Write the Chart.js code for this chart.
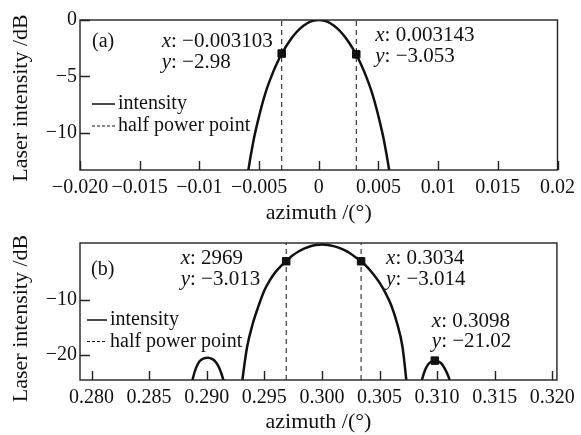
<!DOCTYPE html>
<html>
<head>
<meta charset="utf-8">
<script src="https://cdn.jsdelivr.net/npm/chart.js@4/dist/chart.umd.min.js"></script>
<style>
  body { margin: 0; background: #fff; }
  #wrap { position: relative; width: 581px; height: 435px; }
  canvas { position: absolute; left: 0; }
</style>
</head>
<body>
<div id="wrap">
  <canvas id="chartA" width="581" height="228" style="top:0"></canvas>
  <canvas id="chartB" width="581" height="207" style="top:228px"></canvas>
</div>
<script>
// panel (a)
const xTicksA = [-0.02, -0.015, -0.01, -0.005, 0, 0.005, 0.01, 0.015, 0.02];
const xTickLabelsA = ['−0.020', '−0.015', '−0.01', '−0.005', '0', '0.005', '0.01', '0.015', '0.02'];
const yTicksA = [0, -5, -10];
const yTickLabelsA = ['0', '−5', '−10'];
const azimuthA = [-0.0065, -0.006, -0.0055, -0.005, -0.0045, -0.004, -0.0035, -0.003, -0.0025, -0.002, -0.0015, -0.001, -0.0005, 0,
                  0.0005, 0.001, 0.0015, 0.002, 0.0025, 0.003, 0.0035, 0.004, 0.0045, 0.005, 0.0055, 0.006, 0.0065];
const intensityA = [-19.0, -14.1, -10.9, -8.55, -6.6, -5.1, -3.85, -2.8, -1.95, -1.25, -0.7, -0.31, -0.08, 0,
                    -0.08, -0.31, -0.7, -1.25, -1.95, -2.8, -3.85, -5.1, -6.6, -8.55, -10.9, -14.1, -19.0];
const halfPowerA = [-0.003103, 0.003143];
const markerXA = [-0.003103, 0.003143];
const markerYA = [-2.98, -3.053];
const markerLabelsA = [['x: −0.003103', 'y: −2.98'], ['x: 0.003143', 'y: −3.053']];

// panel (b)
const xTicksB = [0.28, 0.285, 0.29, 0.295, 0.3, 0.305, 0.31, 0.315, 0.32];
const xTickLabelsB = ['0.280', '0.285', '0.290', '0.295', '0.300', '0.305', '0.310', '0.315', '0.320'];
const yTicksB = [-10, -20];
const yTickLabelsB = ['−10', '−20'];
const azimuthB = [0.2886, 0.2888, 0.2891, 0.2894, 0.2897, 0.2901, 0.2905, 0.2908, 0.2911, 0.2914, 0.2916, 0.2922,
                  0.2928, 0.2931, 0.2935, 0.2940, 0.2945, 0.2950, 0.2955, 0.2960, 0.2965, 0.2970, 0.2975, 0.2980,
                  0.2985, 0.2990, 0.2995, 0.3000, 0.3005, 0.3010, 0.3015, 0.3020, 0.3025, 0.3030, 0.3035, 0.3040,
                  0.3045, 0.3050, 0.3055, 0.3060, 0.3065, 0.3070, 0.3074, 0.3080,
                  0.3085, 0.3087, 0.3090, 0.3093, 0.3096, 0.3098, 0.3101, 0.3104, 0.3107, 0.3110, 0.3113];
const intensityB = [-26.5, -24.2, -22.2, -21.1, -20.65, -20.5, -20.75, -21.3, -22.4, -24.2, -26, null,
                    -30, -24.5, -18.6, -14.3, -11.1, -8.3, -6.4, -4.9, -3.75, -2.8, -1.9, -1.2,
                    -0.68, -0.3, -0.08, 0, -0.07, -0.27, -0.6, -1.05, -1.65, -2.4, -3.2, -4.2,
                    -5.45, -6.9, -8.7, -10.9, -14.1, -18.6, -26, null,
                    -26.5, -24.4, -22.5, -21.5, -21.1, -21.02, -21.15, -21.6, -22.6, -24.0, -26.2];
const halfPowerB = [0.2969, 0.3034];
const markerXB = [0.2969, 0.3034, 0.3098];
const markerYB = [-3.013, -3.014, -21.02];
const markerLabelsB = [['x: 2969', 'y: −3.013'], ['x: 0.3034', 'y: −3.014'], ['x: 0.3098', 'y: −21.02']];

const FONT = '"Liberation Serif", "DejaVu Serif", serif';
const INK = '#111';

// italic first letter (x / y), rest upright
function richText(ctx, str, x, y, draw) {
  ctx.font = 'italic 21px ' + FONT;
  const w1 = ctx.measureText(str[0]).width;
  if (draw) ctx.fillText(str[0], x, y);
  ctx.font = '21px ' + FONT;
  const w2 = ctx.measureText(str.slice(1)).width;
  if (draw) ctx.fillText(str.slice(1), x + w1, y);
  return w1 + w2;
}

const panelDecor = {
  id: 'panelDecor',
  afterDatasetsDraw(chart, args, o) {
    const ctx = chart.ctx, a = chart.chartArea;
    const xs = chart.scales.x, ys = chart.scales.y;
    ctx.save();
    ctx.strokeStyle = '#222';
    ctx.lineWidth = 1.4;
    ctx.setLineDash([]);
    ctx.strokeRect(a.left, a.top, a.right - a.left, a.bottom - a.top);
    // ticks pointing inward
    ctx.beginPath();
    xs.ticks.forEach(t => {
      const px = Math.round(xs.getPixelForValue(t.value)) + 0.5;
      ctx.moveTo(px, a.bottom); ctx.lineTo(px, a.bottom - 9);
    });
    ys.ticks.forEach(t => {
      const py = Math.round(ys.getPixelForValue(t.value)) + 0.5;
      ctx.moveTo(a.left, py); ctx.lineTo(a.left + 10, py);
    });
    ctx.stroke();

    ctx.fillStyle = INK;
    ctx.textBaseline = 'middle';
    ctx.textAlign = 'left';
    // panel tag
    ctx.font = '20px ' + FONT;
    ctx.fillText(o.tag, a.left + o.tagPos[0], a.top + o.tagPos[1]);

    // legend
    const lg = o.legend;
    const lx = a.left + lg.x, ly = a.top + lg.y;
    ctx.strokeStyle = INK;
    ctx.lineWidth = 1.5;
    ctx.beginPath(); ctx.moveTo(lx, ly); ctx.lineTo(lx + lg.len, ly); ctx.stroke();
    ctx.lineWidth = 1;
    ctx.setLineDash([3, 2]);
    ctx.beginPath(); ctx.moveTo(lx, ly + lg.row); ctx.lineTo(lx + lg.len, ly + lg.row); ctx.stroke();
    ctx.setLineDash([]);
    ctx.fillText('intensity', lx + lg.len + 3, ly);
    ctx.fillText('half power point', lx + lg.len + 3, ly + lg.row);

    // data tips
    o.markers.x.forEach((mx, i) => {
      const px = xs.getPixelForValue(mx), py = ys.getPixelForValue(o.markers.y[i]);
      const p = o.labelPos[i], lines = o.markers.labels[i];
      const w = Math.max(...lines.map(s => richText(ctx, s, 0, 0, false)));
      const left = p.align === 'right' ? px + p.dx - w : px + p.dx;
      richText(ctx, lines[0], left, py + p.dy1, true);
      richText(ctx, lines[1], left, py + p.dy2, true);
    });

    // y axis title
    ctx.translate(o.yTitle[0], o.yTitle[1]);
    ctx.rotate(-Math.PI / 2);
    ctx.textAlign = 'center';
    ctx.font = '22px ' + FONT;
    ctx.fillText('Laser intensity /dB', 0, 0);
    ctx.restore();
  }
};

function makeChart(id, p) {
  const curve = p.az.map((x, i) => ({ x: x, y: p.val[i] }));
  const dashes = p.half.map(h => ({
    data: [{ x: h, y: p.yMin }, { x: h, y: p.yMax }],
    borderColor: INK, borderWidth: 1, borderDash: [5, 4], pointRadius: 0, order: 2
  }));
  return new Chart(document.getElementById(id), {
    type: 'line',
    data: {
      datasets: [
        {
          data: curve, borderColor: INK, borderWidth: 2.5, pointRadius: 0,
          cubicInterpolationMode: 'monotone', spanGaps: false, order: 1
        },
        {
          data: p.markers.x.map((x, i) => ({ x: x, y: p.markers.y[i] })),
          showLine: false, pointStyle: 'rect', pointRadius: 5.3,
          pointBackgroundColor: INK, pointBorderColor: INK, order: 0
        },
        ...dashes
      ]
    },
    options: {
      responsive: false,
      animation: false,
      devicePixelRatio: 1,
      layout: { padding: { top: p.padTop, right: 19, left: 0, bottom: 0 } },
      plugins: {
        legend: { display: false },
        tooltip: { enabled: false },
        panelDecor: p.decor
      },
      scales: {
        x: {
          type: 'linear', min: p.xMin, max: p.xMax,
          afterBuildTicks: s => { s.ticks = p.xTicks.map(v => ({ value: v })); },
          afterFit: s => { s.height = p.xAxisH; },
          grid: { display: false, drawTicks: false },
          border: { display: false },
          ticks: {
            autoSkip: false, maxRotation: 0, padding: 6, color: INK,
            font: { family: FONT, size: 20 },
            callback: (v, i) => p.xLabels[i]
          },
          title: {
            display: true, text: 'azimuth /(°)', color: INK,
            font: { family: FONT, size: 22 }, padding: { top: 0, bottom: p.titlePad }
          }
        },
        y: {
          type: 'linear', min: p.yMin, max: p.yMax,
          afterBuildTicks: s => { s.ticks = p.yTicks.map(v => ({ value: v })); },
          afterFit: s => { s.width = 80; },
          grid: { display: false, drawTicks: false },
          border: { display: false },
          ticks: {
            padding: 3, color: INK,
            font: { family: FONT, size: 20 },
            callback: (v, i) => p.yLabels[i]
          }
        }
      }
    },
    plugins: [panelDecor]
  });
}

const markersA = { x: markerXA, y: markerYA, labels: markerLabelsA };
const markersB = { x: markerXB, y: markerYB, labels: markerLabelsB };

makeChart('chartA', {
  az: azimuthA, val: intensityA, half: halfPowerA, markers: markersA,
  xMin: -0.02, xMax: 0.02, yMin: -13.33, yMax: 0,
  xTicks: xTicksA, xLabels: xTickLabelsA, yTicks: yTicksA, yLabels: yTickLabelsA,
  padTop: 20, xAxisH: 58, titlePad: 2,
  decor: {
    tag: '(a)', tagPos: [12, 22],
    legend: { x: 12, y: 84, len: 23, row: 22 },
    markers: markersA,
    labelPos: [{ align: 'right', dx: -9, dy1: -12, dy2: 9 }, { align: 'left', dx: 19, dy1: -19, dy2: 2 }],
    yTitle: [21, 98]
  }
});

makeChart('chartB', {
  az: azimuthB, val: intensityB, half: halfPowerB, markers: markersB,
  xMin: 0.279, xMax: 0.3204, yMin: -24.53, yMax: 0.29,
  xTicks: xTicksB, xLabels: xTickLabelsB, yTicks: yTicksB, yLabels: yTickLabelsB,
  padTop: 7, xAxisH: 55, titlePad: 0,
  decor: {
    tag: '(b)', tagPos: [11, 27],
    legend: { x: 7, y: 77, len: 20, row: 21.5 },
    markers: markersB,
    labelPos: [{ align: 'right', dx: -26, dy1: -3, dy2: 18 }, { align: 'left', dx: 25, dy1: -3, dy2: 18 },
               { align: 'left', dx: -3, dy1: -39, dy2: -19 }],
    yTitle: [21, 90.5]
  }
});
</script>
</body>
</html>
